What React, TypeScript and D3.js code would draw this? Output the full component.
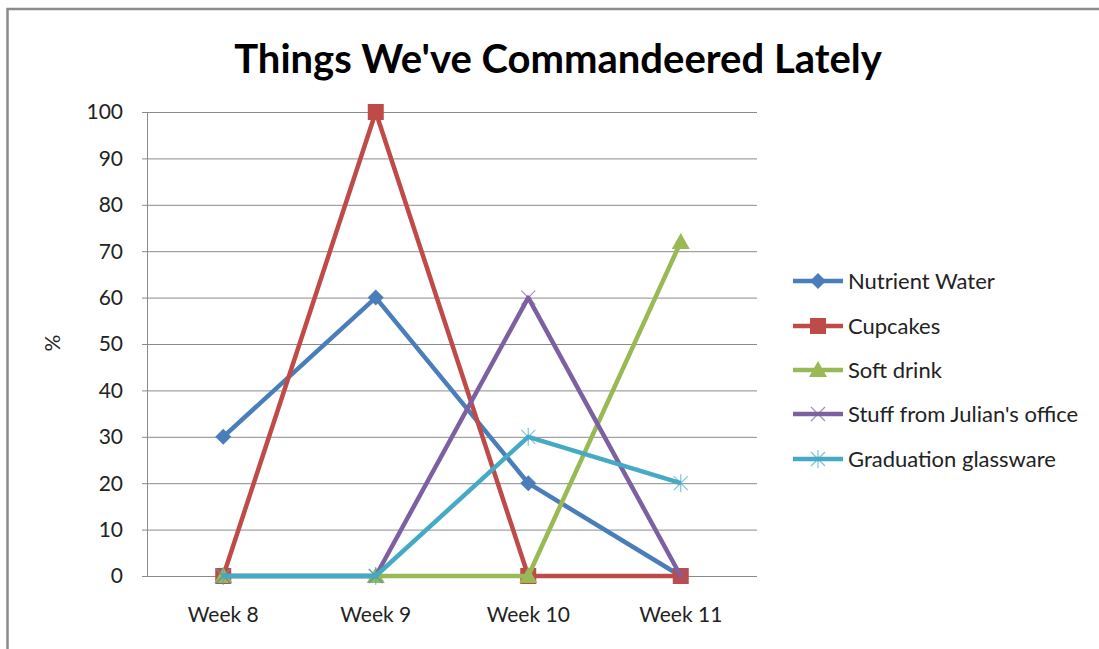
import React from "react";
import * as d3 from "d3";

const weeks = ["Week 8", "Week 9", "Week 10", "Week 11"];
const seriesNames = [
  "Nutrient Water",
  "Cupcakes",
  "Soft drink",
  "Stuff from Julian's office",
  "Graduation glassware",
];
const nutrientWater = [30, 60, 20, 0];
const cupcakes = [0, 100, 0, 0];
const softDrink = [0, 0, 0, 72];
const juliansOffice = [0, 0, 60, 0];
const glassware = [0, 0, 30, 20];
const yTicks = [0, 10, 20, 30, 40, 50, 60, 70, 80, 90, 100];

const colors = ["#4a7ebb", "#be4b48", "#98b954", "#7d60a0", "#46aac5"];
const markers = ["diamond", "square", "triangle", "x", "star"];

const font = "Lato, 'Open Sans', sans-serif";

const Marker = ({ kind, x, y, color }: { kind: string; x: number; y: number; color: string }) => {
  if (kind === "diamond") {
    const s = 8;
    return <path d={`M${x},${y - s}L${x + s},${y}L${x},${y + s}L${x - s},${y}Z`} fill={color} />;
  }
  if (kind === "square") {
    return <rect x={x - 8} y={y - 8} width={16} height={16} fill={color} />;
  }
  if (kind === "triangle") {
    return <path d={`M${x},${y - 9}L${x + 9},${y + 7}L${x - 9},${y + 7}Z`} fill={color} />;
  }
  if (kind === "x") {
    const s = 7;
    return (
      <path
        d={`M${x - s},${y - s}L${x + s},${y + s}M${x - s},${y + s}L${x + s},${y - s}`}
        stroke={color}
        strokeOpacity={0.7}
        strokeWidth={1.2}
        fill="none"
      />
    );
  }
  const s = 7;
  return (
    <path
      d={`M${x - s},${y - s}L${x + s},${y + s}M${x - s},${y + s}L${x + s},${y - s}M${x},${y - s - 2}L${x},${y + s + 2}`}
      stroke={color}
      strokeOpacity={0.7}
      strokeWidth={1.2}
      fill="none"
    />
  );
};

export default function App() {
  const width = 1099;
  const height = 649;
  const left = 147;
  const right = 757;
  const top = 112;
  const bottom = 576;

  const x = d3.scalePoint<string>().domain(weeks).range([left, right]).padding(0.5);
  const y = d3.scaleLinear().domain([0, 100]).range([bottom, top]);
  const line = d3
    .line<number>()
    .x((_, i) => x(weeks[i]) as number)
    .y((d) => y(d));

  const allSeries = [nutrientWater, cupcakes, softDrink, juliansOffice, glassware];
  const legendY = [281, 326, 370, 414, 459];

  return (
    <svg
      width={width}
      height={height}
      style={{ position: "absolute", left: 0, top: 0, background: "#fff" }}
    >
      <rect x={7.5} y={9} width={1100} height={650} fill="#fff" stroke="#8c8c8c" strokeWidth={2.5} />
      <text
        x={558}
        y={73}
        textAnchor="middle"
        fontFamily={font}
        fontWeight="bold"
        fontSize={40}
        fill="#000"
      >
        Things We've Commandeered Lately
      </text>

      {yTicks.map((t) => (
        <g key={t}>
          {t > 0 && (
            <line x1={left} x2={right} y1={y(t) + 0.5} y2={y(t) + 0.5} stroke="#8a8a8a" strokeWidth={1} />
          )}
          <line x1={left - 5} x2={left} y1={y(t) + 0.5} y2={y(t) + 0.5} stroke="#8a8a8a" />
          <text
            x={123}
            y={y(t)}
            dy="0.35em"
            textAnchor="end"
            fontFamily={font}
            fontSize={21}
            fill="#222"
          >
            {t}
          </text>
        </g>
      ))}
      <line x1={left + 0.5} x2={left + 0.5} y1={top} y2={bottom} stroke="#8a8a8a" />
      <line x1={left} x2={right} y1={bottom + 0.5} y2={bottom + 0.5} stroke="#8a8a8a" />

      {weeks.map((w) => (
        <text
          key={w}
          x={x(w)}
          y={622}
          textAnchor="middle"
          fontFamily={font}
          fontSize={21}
          fill="#222"
        >
          {w}
        </text>
      ))}

      <text
        transform={`translate(60,343) rotate(-90)`}
        textAnchor="middle"
        fontFamily={font}
        fontSize={21}
        fill="#222"
      >
        %
      </text>

      {allSeries.map((vals, si) => (
        <g key={seriesNames[si]}>
          <path d={line(vals) || ""} fill="none" stroke={colors[si]} strokeWidth={4.5} strokeLinejoin="round" />
          {vals.map((v, i) => (
            <Marker key={i} kind={markers[si]} x={x(weeks[i]) as number} y={y(v)} color={colors[si]} />
          ))}
        </g>
      ))}

      {seriesNames.map((name, si) => (
        <g key={name}>
          <line x1={793} x2={843} y1={legendY[si]} y2={legendY[si]} stroke={colors[si]} strokeWidth={4.5} />
          <Marker kind={markers[si]} x={818} y={legendY[si]} color={colors[si]} />
          <text x={848} y={legendY[si]} dy="0.35em" fontFamily={font} fontSize={22} fill="#222">
            {name}
          </text>
        </g>
      ))}
    </svg>
  );
}
